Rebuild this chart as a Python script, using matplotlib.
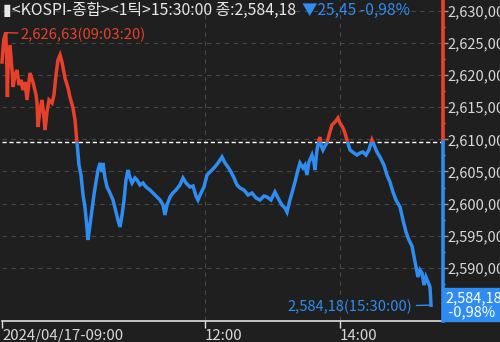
import numpy as np
import matplotlib
matplotlib.use("Agg")
import matplotlib.pyplot as plt
from matplotlib.patches import Rectangle
from matplotlib.ticker import FixedLocator, MultipleLocator

plt.rcParams['font.family'] = ['Noto Sans CJK KR', 'DejaVu Sans']

# minutes after 09:00, KOSPI price
minutes = [0, 1.5, 3.33, 4.2, 4.8, 5.3, 7.1, 8.9, 9.8, 11.5, 13.3, 15.1, 16.9, 18.6, 20.4,
           22.2, 24.8, 27.5, 30.2, 31.1, 31.9, 33.7, 35.5, 37.3, 38.2, 39.9, 41.7, 44.4,
           46.1, 47.9, 49.7, 51.5, 53.2, 55.9, 58.6, 60.3, 63.0, 64.8, 66.5, 68.3, 70.1,
           71.9, 73.6, 75.4, 76.3, 78.1, 79.9, 81.6, 83.4, 85.2, 87.0, 88.7, 89.6, 91.4,
           93.2, 95.8, 98.5, 101.2, 102.9, 104.7, 106.5, 108.3, 110.0, 111.8, 113.6, 115.4,
           118.0, 119.8, 122.4, 125.1, 127.8, 131.3, 134.0, 136.6, 140.2, 142.9, 144.6,
           146.4, 149.1, 151.7, 154.4, 157.9, 160.6, 163.3, 166.8, 169.5, 172.1, 173.9,
           176.6, 179.2, 181.9, 184.6, 188.1, 191.7, 195.2, 197.9, 200.5, 203.2, 205.9,
           208.5, 211.2, 214.7, 218.3, 221.8, 225.4, 228.9, 232.5, 235.1, 238.7, 242.2,
           244.9, 248.4, 251.1, 252.9, 255.5, 257.3, 260.0, 262.6, 264.4, 267.1, 268.9,
           270.6, 272.4, 275.1, 276.8, 277.7, 279.5, 281.3, 282.2, 283.0, 284.8, 286.6,
           288.4, 290.2, 292.8, 295.5, 298.1, 299.9, 302.6, 304.3, 306.1, 308.8, 312.3,
           315.0, 317.7, 320.3, 323.0, 325.6, 328.3, 330.1, 332.7, 335.4, 338.9, 341.6,
           344.3, 346.9, 349.6, 353.2, 355.8, 358.5, 361.1, 363.8, 366.5, 369.1, 370.9,
           372.7, 374.5, 376.2, 378.0, 379.8, 380.7]
prices = [2622.06, 2625.48, 2626.63, 2622.37, 2616.60, 2620.81, 2624.70, 2620.81, 2618.16,
          2620.03, 2620.81, 2618.47, 2619.25, 2617.69, 2618.94, 2616.14, 2620.34, 2618.94,
          2616.92, 2615.67, 2611.93, 2614.58, 2616.14, 2613.33, 2611.46, 2614.27, 2616.14,
          2615.67, 2616.92, 2620.03, 2622.37, 2623.15, 2622.06, 2619.56, 2618.01, 2616.60,
          2614.89, 2613.02, 2609.60, 2606.01, 2604.45, 2601.34, 2599.47, 2596.20, 2594.33,
          2596.67, 2599.00, 2601.34, 2603.36, 2605.23, 2606.32, 2604.92, 2606.32, 2603.99,
          2602.59, 2601.65, 2600.56, 2598.69, 2597.45, 2596.36, 2598.22, 2600.56, 2603.68,
          2605.23, 2603.99, 2603.21, 2603.99, 2603.68, 2602.90, 2603.21, 2602.59, 2602.12,
          2601.65, 2601.18, 2600.56, 2599.78, 2598.22, 2599.78, 2601.03, 2601.65, 2602.12,
          2602.90, 2603.99, 2603.21, 2602.59, 2602.74, 2601.18, 2600.56, 2601.65, 2602.59,
          2604.45, 2604.92, 2605.55, 2606.32, 2607.26, 2606.32, 2605.70, 2604.92, 2603.99,
          2602.90, 2602.43, 2602.12, 2601.34, 2601.65, 2600.87, 2600.56, 2601.18, 2601.03,
          2600.56, 2601.81, 2600.87, 2599.78, 2599.31, 2598.69, 2600.56, 2601.65, 2603.36,
          2605.23, 2606.32, 2605.55, 2606.01, 2604.45, 2606.48, 2607.57, 2606.48, 2605.23,
          2608.35, 2609.91, 2610.37, 2609.13, 2608.35, 2608.97, 2609.44, 2610.69, 2612.24,
          2612.71, 2613.33, 2612.55, 2611.78, 2611.00, 2609.91, 2608.35, 2607.88, 2607.57,
          2607.88, 2608.04, 2607.57, 2608.35, 2609.91, 2609.13, 2608.04, 2607.26, 2606.01,
          2604.45, 2603.36, 2601.81, 2600.56, 2599.47, 2597.45, 2595.58, 2594.33, 2593.40,
          2590.90, 2588.57, 2589.66, 2589.19, 2587.32, 2588.57, 2587.79, 2587.01, 2584.18]

prev_close = 2609.63
high_label = "2,626,63(09:03:20)"
close_label = "2,584,18(15:30:00)"
x_ticks = [0, 180, 300]
x_labels = ["2024/04/17-09:00", "12:00", "14:00"]
y_ticks = [2590, 2595, 2600, 2605, 2610, 2615, 2620, 2625, 2630]

bg = "#1f1f1f"
red = "#e8412b"
blue = "#2f8cf0"
txt = "#d8d8d8"
grid = "#474747"

fig = plt.figure(figsize=(5, 3.42), dpi=100, facecolor=bg)
ax = fig.add_axes([0.004, 0.0614, 0.879, 0.9386], facecolor=bg)
ax.set_xlim(0, 390)
ax.set_ylim(2581.71, 2631.71)

# price line, red above previous close and blue below
for col, lo, hi in [(red, prev_close, 2700), (blue, 2500, prev_close)]:
    ln, = ax.plot(minutes, prices, color=col, lw=2.5, solid_joinstyle="miter", zorder=3)
    clip = Rectangle((-10, lo), 420, hi - lo, transform=ax.transData, visible=False)
    ax.add_patch(clip)
    ln.set_clip_path(clip)

ax.axhline(prev_close, color="white", lw=1, ls=(0, (3, 2)), zorder=2)

for y in y_ticks:
    ax.axhline(y, color=grid, lw=0.8, ls=(0, (4, 4)), zorder=1)
for x in x_ticks[1:]:
    ax.axvline(x, color=grid, lw=0.8, ls=(0, (4, 4)), zorder=1)

# right colored bar
yt = ax.get_yaxis_transform()
ax.plot([1.003, 1.003], [prev_close, 2631.71], transform=yt, color=red, lw=2.6, clip_on=False, zorder=5)
ax.plot([1.003, 1.003], [2581.71, prev_close], transform=yt, color=blue, lw=2.6, clip_on=False, zorder=5)

for s in ["left", "top", "right"]:
    ax.spines[s].set_visible(False)
ax.spines["bottom"].set_color("#e0e0e0")
ax.spines["bottom"].set_linewidth(1.2)

ax.set_xticks(x_ticks)
ax.set_xticklabels(x_labels, ha="left")
ax.tick_params(axis="x", colors="#e0e0e0", length=5, width=1, pad=1, labelsize=10.8, labelcolor=txt)

ax.yaxis.tick_right()
ax.yaxis.set_major_locator(FixedLocator(y_ticks))
ax.set_yticklabels([f"{v:,.2f}".replace(".", ",") for v in y_ticks])
ax.yaxis.set_minor_locator(MultipleLocator(2.5))
ax.tick_params(axis="y", which="major", colors="#9a9a9a", length=4, width=1, pad=0,
               labelsize=10.5, labelcolor=txt)
ax.tick_params(axis="y", which="minor", colors="#9a9a9a", length=2, width=1)

# high / close annotations
ax.annotate(high_label, xy=(minutes[2], prices[2]), xytext=(16.5, 2626.2),
            color=red, fontsize=10.6, va="center", ha="left",
            arrowprops=dict(arrowstyle="-", color=red, lw=1, shrinkA=0, shrinkB=0))
ax.annotate(close_label, xy=(minutes[-1], prices[-1]), xytext=(364, 2583.9),
            color=blue, fontsize=10.6, va="center", ha="right",
            arrowprops=dict(arrowstyle="-", color=blue, lw=1, shrinkA=1, shrinkB=0))

# last price box
box = Rectangle((1.006, 2581.71), 0.2, 5.1, transform=yt, color=blue, clip_on=False, zorder=6)
ax.add_patch(box)
ax.text(1.009, 2585.3, "2,584,18", transform=yt, color="white", fontsize=10.5, va="center",
        ha="left", zorder=7, clip_on=False)
ax.text(1.009, 2583.0, " -0,98%", transform=yt, color="white", fontsize=10.5, va="center",
        ha="left", zorder=7, clip_on=False)

# header
fig.text(0.006, 0.968, "▮<KOSPI-종합><1틱>15:30:00 종:2,584,18", color="#e8e8e8",
         fontsize=11.4, va="center", ha="left")
fig.text(0.604, 0.968, "▼25,45 -0,98%", color=blue, fontsize=11.2, va="center", ha="left")

fig.savefig("out.png", dpi=100, facecolor=bg)
